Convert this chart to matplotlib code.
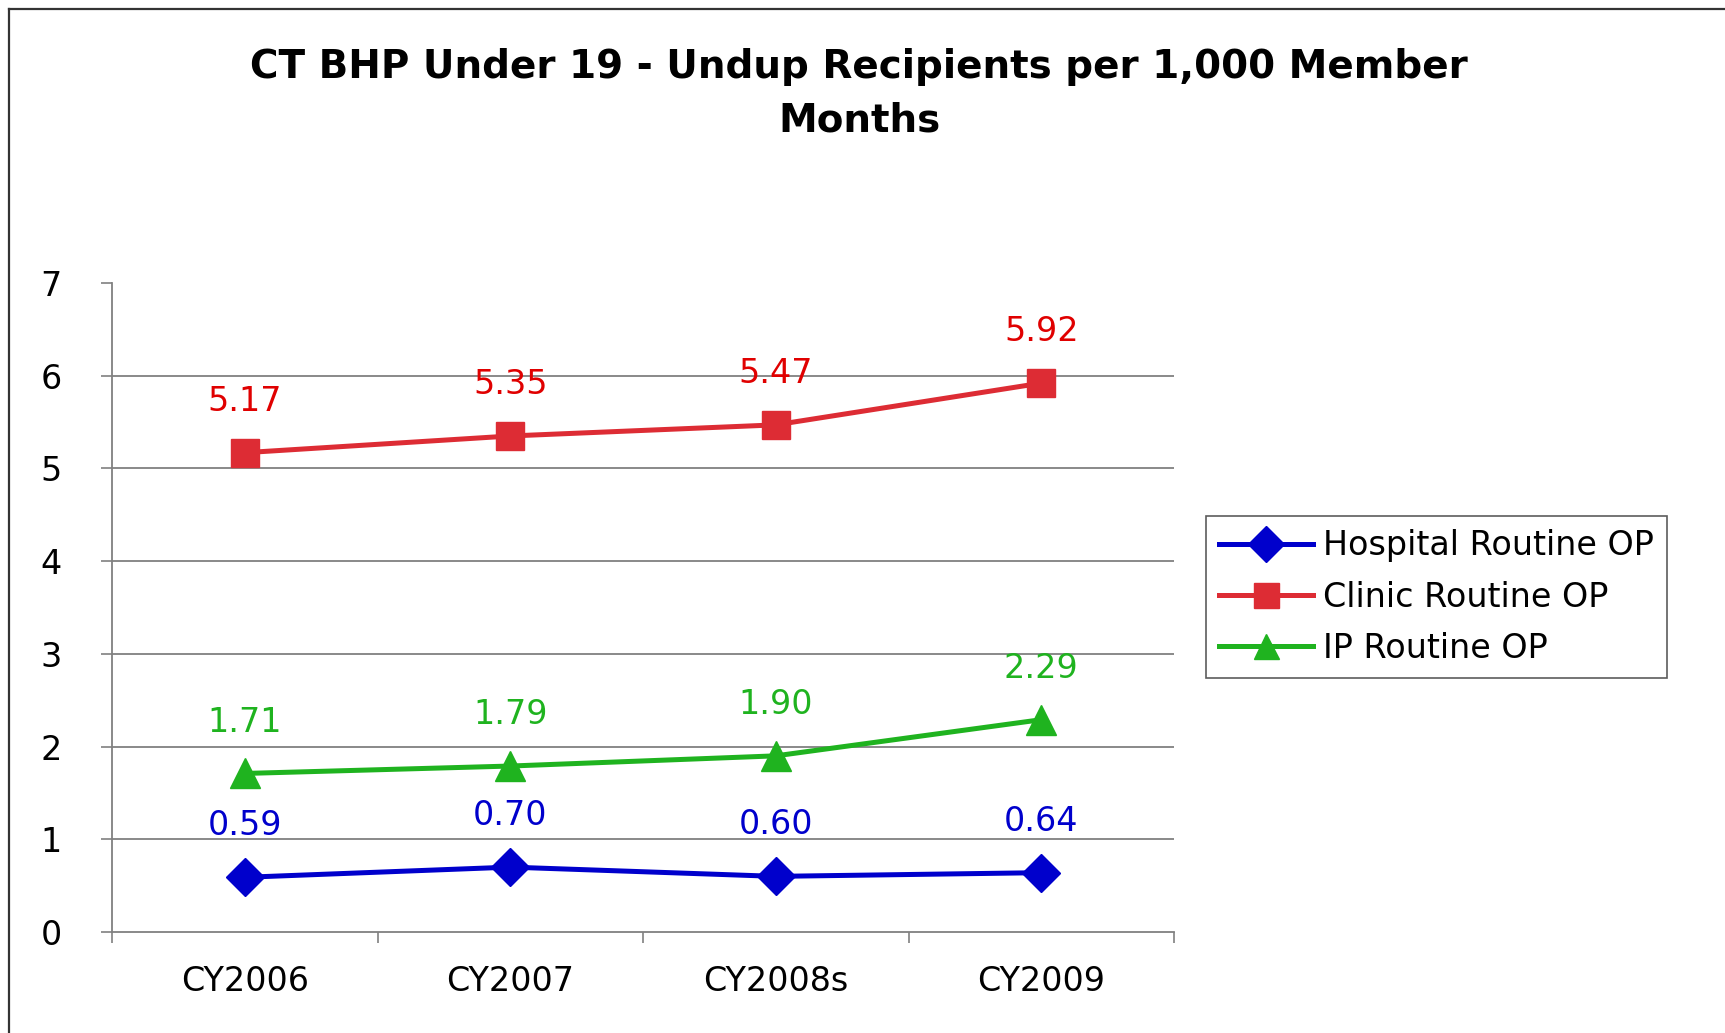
import matplotlib
matplotlib.use("Agg")
import matplotlib.pyplot as plt
from matplotlib.lines import Line2D

plt.rcParams['font.family'] = ['DejaVu Sans']

# datos del grafico
years = ['CY2006', 'CY2007', 'CY2008s', 'CY2009']
hospital = [0.59, 0.70, 0.60, 0.64]
clinic = [5.17, 5.35, 5.47, 5.92]
ip = [1.71, 1.79, 1.90, 2.29]
names = ['Hospital Routine OP', 'Clinic Routine OP', 'IP Routine OP']

W, H = 1725, 1033
fig = plt.figure(figsize=(W / 100, H / 100), dpi=100)
ax = fig.add_axes([112 / W, 1 - 932 / H, (1174 - 112) / W, (932 - 283) / H])

# marco exterior (solo izquierda y arriba visibles)
fig.add_artist(Line2D([9 / W, 9 / W], [0, 1 - 9 / H], transform=fig.transFigure, color='#333333', lw=1.6))
fig.add_artist(Line2D([9 / W, 1], [1 - 9 / H, 1 - 9 / H], transform=fig.transFigure, color='#333333', lw=1.6))

x = list(range(len(years)))
series = [
    (hospital, '#0000CC', '#0000CC', 'D', 19),
    (clinic, '#DD2C34', '#E00000', 's', 20),
    (ip, '#1FB31F', '#1FB31F', '^', 22),
]
handles = []
for (vals, col, tcol, mk, ms), nm in zip(series, names):
    h, = ax.plot(x, vals, color=col, lw=3.6, marker=mk, markersize=ms, label=nm, zorder=3)
    handles.append(h)
    for xi, v in zip(x, vals):
        ax.annotate('%.2f' % v, (xi, v), xytext=(0, 37), textcoords='offset points',
                    ha='center', va='center', color=tcol, fontsize=24)

ax.set_xlim(-0.5, 3.5)
ax.set_ylim(0, 7)
ax.set_yticks(range(0, 8))
ax.set_xticks(x)
ax.set_xticklabels(years, fontsize=24)
ax.set_xticks([-0.5, 0.5, 1.5, 2.5, 3.5], minor=True)
ax.tick_params(axis='x', which='major', length=0, pad=24)
ax.tick_params(axis='x', which='minor', length=8, width=1.2, color='#808080', direction='out')
ax.tick_params(axis='y', length=8, width=1.2, color='#808080', labelsize=24, pad=36)
for lab in ax.get_yticklabels():
    lab.set_horizontalalignment('center')

for yv in range(1, 7):
    ax.axhline(yv, color='#808080', lw=1.3, zorder=1)

for s in ['top', 'right']:
    ax.spines[s].set_visible(False)
for s in ['left', 'bottom']:
    ax.spines[s].set_color('#808080')
    ax.spines[s].set_linewidth(1.3)

fig.text(859 / W, 1 - 67 / H, 'CT BHP Under 19 - Undup Recipients per 1,000 Member',
         ha='center', va='center', fontsize=28, fontweight='bold')
fig.text(859 / W, 1 - 120 / H, 'Months', ha='center', va='center', fontsize=28, fontweight='bold')

leg = fig.legend(handles=handles, loc='upper left', bbox_to_anchor=(1206 / W, 1 - 516 / H),
                 fontsize=24, frameon=True, fancybox=False, edgecolor='#333333',
                 handlelength=2.8, handletextpad=0.3, borderpad=0.4, labelspacing=0.55,
                 borderaxespad=0)
leg.get_frame().set_linewidth(1.2)
for lh in leg.legend_handles:
    lh.set_markersize(18)

fig.savefig('out.png', dpi=100)
